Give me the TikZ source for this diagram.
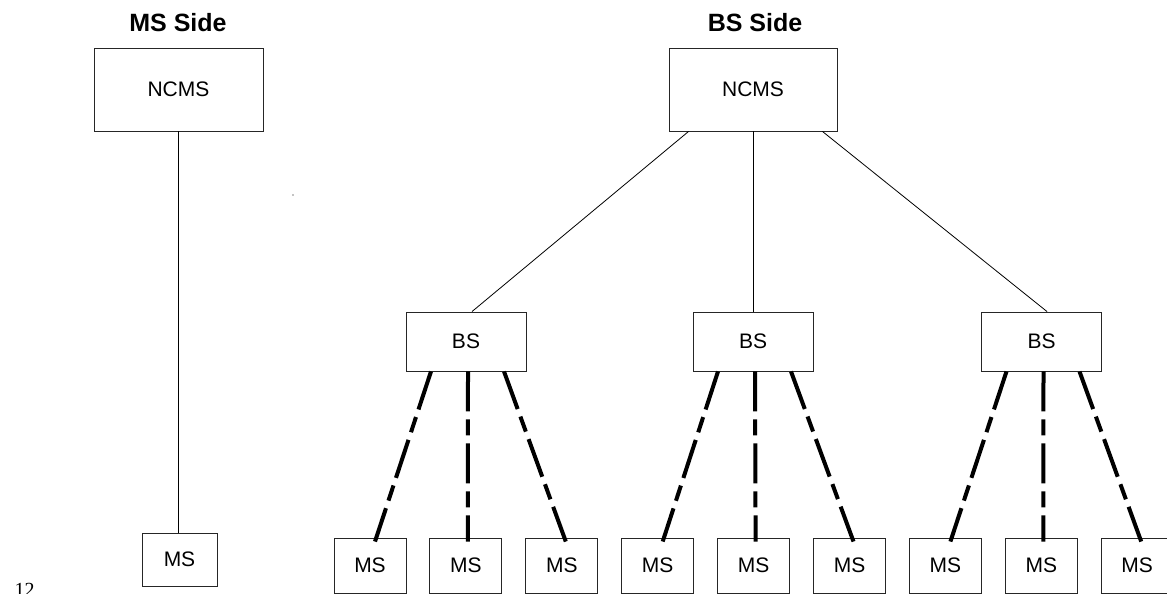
\documentclass[tikz,border=0pt]{standalone}
\usepackage{fontspec}
\setmainfont{Liberation Sans}
\newfontfamily\numfont{Liberation Serif}
\tikzset{
  box/.style={draw=black!85, line width=0.9pt, inner sep=0pt, font=\fontsize{21}{25}\selectfont},
  ncmsbox/.style={box, minimum width=168pt, minimum height=83pt},
  bsbox/.style={box, minimum width=120pt, minimum height=59pt},
  msbox/.style={box, minimum width=72pt, minimum height=55pt},
  title/.style={font=\bfseries\fontsize{25}{30}\selectfont, anchor=base},
  wire/.style={line width=0.8pt},
  radio/.style={line width=4pt, dash pattern=on 40pt off 8pt on 16pt off 8pt}
}
\begin{document}
\begin{tikzpicture}[x=1pt, y=-1pt, line cap=butt, line join=miter]
	\useasboundingbox (0,0) rectangle (1167,594);
	% MS side
	\node[title] (msside) at (178,32) {MS Side};
	\node[ncmsbox, minimum width=169pt] (ncmsL) at (178.5,89.5) {NCMS};
	\node[msbox, minimum width=75pt, minimum height=53pt] (msL) at (179.5,559.5) {MS};
	\draw[wire] (ncmsL) -- (ncmsL |- msL.north);
	\fill (293,195) circle (0.7);
	\node[anchor=base west, font=\numfont\fontsize{20}{24}\selectfont] (pageno) at (11,596.5) {12};
	% BS side
	\node[title] (bsside) at (755,32) {BS Side};
	\node[ncmsbox] (ncmsR) at (753,89.5) {NCMS};
	\foreach \b/\x in {1/466, 2/753, 3/1041.5}
		\node[bsbox] (bs\b) at (\x,341.5) {BS};
	\foreach \m in {1,...,9}
		\node[msbox] (ms\m) at ({370+95.9*(\m-1)},565.5) {MS};
	\draw[wire] ([xshift=20]ncmsR.south west) -- ([xshift=6]bs1.north);
	\draw[wire] (ncmsR.south) -- (bs2.north);
	\draw[wire] ([xshift=-15]ncmsR.south east) -- ([xshift=5.5]bs3.north);
	% radio links
	\foreach \b/\m in {1/1, 2/4, 3/7} {
		\pgfmathtruncatemacro{\mb}{\m+1}
		\pgfmathtruncatemacro{\mc}{\m+2}
		\draw[radio] ([xshift=-35]bs\b.south) -- ([xshift=5,yshift=-4]ms\m.north);
		\draw[radio] ([xshift=2]bs\b.south) -- ([xshift=2,yshift=-4]ms\mb.north);
		\draw[radio] ([xshift=38]bs\b.south) -- ([xshift=4,yshift=-4]ms\mc.north);
	}
\end{tikzpicture}
\end{document}
